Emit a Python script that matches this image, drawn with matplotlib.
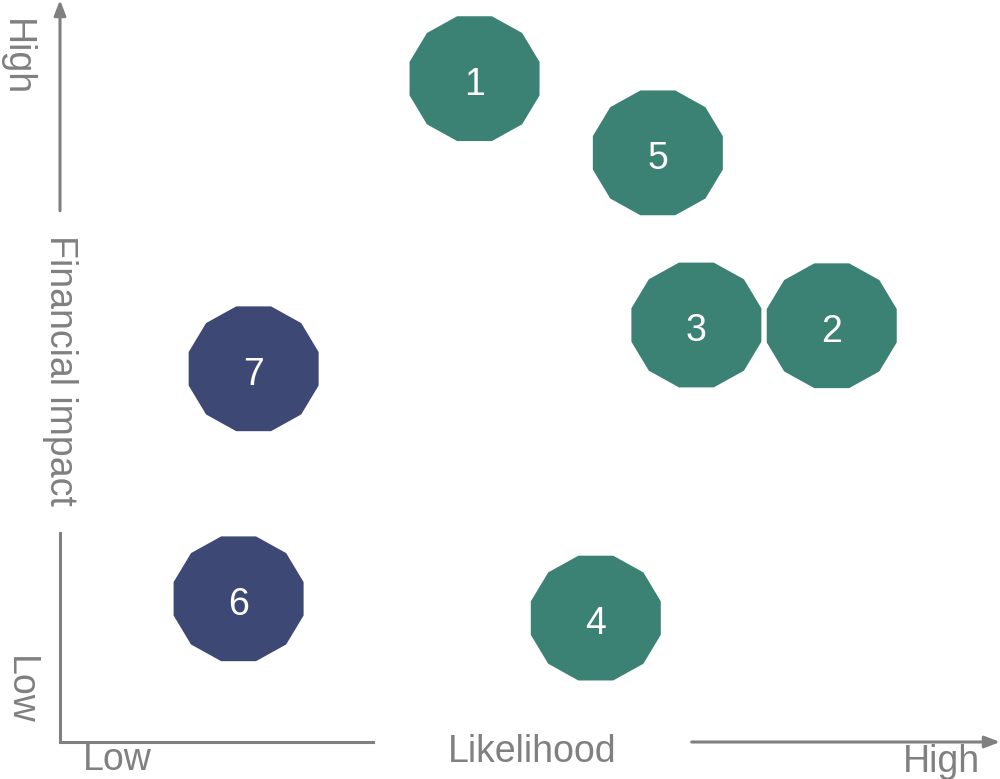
import numpy as np
import matplotlib
matplotlib.use("Agg")
import matplotlib.pyplot as plt

plt.rcParams['font.family'] = ['Liberation Sans', 'DejaVu Sans']

# risk items: likelihood (x) vs financial impact (y), 0-10 scale
labels = ['1', '5', '3', '2', '7', '6', '4']
likelihood = [4.41, 6.36, 6.77, 8.21, 2.06, 1.90, 5.70]
impact = [8.94, 7.94, 5.62, 5.61, 5.03, 1.93, 1.67]
colors = ['#3b8274', '#3b8274', '#3b8274', '#3b8274', '#3e4874', '#3e4874', '#3b8274']

gray = '#808080'

fig = plt.figure(figsize=(10, 7.79), dpi=100)
ax = fig.add_axes([0.06, 37 / 779, 0.94, 742 / 779])
ax.set_xlim(0, 10)
ax.set_ylim(0, 10)
ax.axis('off')

# flat-topped dodecagon marker, slightly squashed vertically
ang = np.deg2rad(15 + 30 * np.arange(12))
verts = list(zip(np.cos(ang), 0.96 * np.sin(ang)))

ax.scatter(likelihood, impact, s=93.6 ** 2, marker=verts, c=colors,
           linewidths=0, zorder=3, clip_on=False)
for x, y, t in zip(likelihood, impact, labels):
    ax.text(x, y - 0.03, t, ha='center', va='center_baseline', color='white', fontsize=27, zorder=4)

# axis lines with gaps for the titles
lw = 2.2
ax.plot([0, 0], [0, 0.282], color=gray, lw=lw, clip_on=False, transform=ax.transAxes)
ax.annotate('', xy=(0, 1.0), xytext=(0, 0.716), xycoords='axes fraction',
            arrowprops=dict(arrowstyle='-|>,head_length=0.9,head_width=0.35',
                            color=gray, lw=lw, shrinkA=0, shrinkB=0))
ax.plot([0.003, 0.333], [0, 0], color=gray, lw=lw, clip_on=False, transform=ax.transAxes)
ax.annotate('', xy=(1.0, 0), xytext=(0.672, 0), xycoords='axes fraction',
            arrowprops=dict(arrowstyle='-|>,head_length=0.9,head_width=0.35',
                            color=gray, lw=lw, shrinkA=0, shrinkB=0))

fs = 27
fig.text(60 / 1000, 1 - 370 / 779, 'Financial impact', rotation=-90, ha='center', va='center',
         color=gray, fontsize=fs)
fig.text(532 / 1000, 1 - 752 / 779, 'Likelihood', ha='center', va='center', color=gray, fontsize=fs)
fig.text(16 / 1000, 1 - 58 / 779, 'High', rotation=-90, ha='center', va='center', color=gray, fontsize=fs)
fig.text(20 / 1000, 1 - 690 / 779, 'Low', rotation=-90, ha='center', va='center', color=gray, fontsize=fs)
fig.text(117 / 1000, 1 - 760 / 779, 'Low', ha='center', va='center', color=gray, fontsize=fs)
fig.text(941 / 1000, 1 - 762 / 779, 'High', ha='center', va='center', color=gray, fontsize=fs)

fig.savefig('out.png', dpi=100)
